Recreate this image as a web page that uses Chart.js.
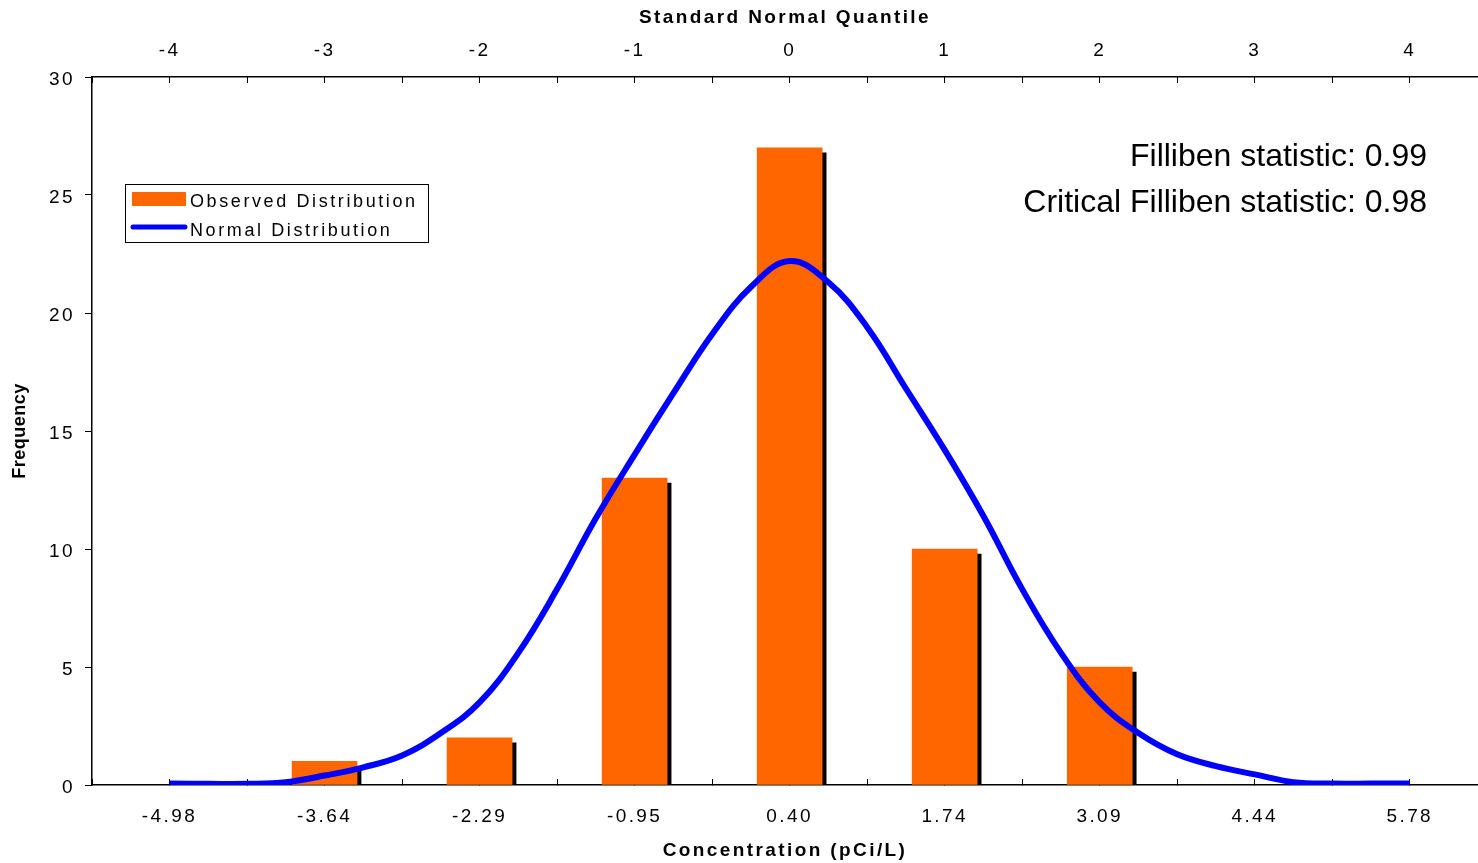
<!DOCTYPE html>
<html>
<head>
<meta charset="utf-8">
<script src="https://cdn.jsdelivr.net/npm/chart.js@4.4.1/dist/chart.umd.min.js"></script>
<style>
  html, body { margin: 0; padding: 0; background: #fff; }
  #wrap { width: 1478px; height: 863px; }
</style>
</head>
<body>
<div id="wrap"><canvas id="chart"></canvas></div>
<script>
// histogram bins, placed on the standard normal quantile axis
const binQuantiles = [-3, -2, -1, 0, 1, 2];
const observedFreq = [1, 2, 13, 27, 10, 5];

// fitted normal curve
const curveQuantiles = [-4, -3.75, -3.5, -3.25, -3, -2.75, -2.5, -2.25, -2, -1.75, -1.5, -1.25, -1, -0.75, -0.5, -0.25,
  0, 0.25, 0.5, 0.75, 1, 1.25, 1.5, 1.75, 2, 2.25, 2.5, 2.75, 3, 3.25, 3.5, 3.75, 4];
const curveFreq = [0.06, 0.05, 0.05, 0.12, 0.4, 0.75, 1.25, 2.2, 3.5, 5.6, 8.3, 11.3, 14.0, 16.6, 19.1, 21.1,
  22.2, 21.3, 19.4, 16.8, 14.2, 11.4, 8.3, 5.6, 3.5, 2.2, 1.3, 0.8, 0.45, 0.12, 0.06, 0.06, 0.06];

// tick labels
const quantileLabels = ['-4', '-3', '-2', '-1', '0', '1', '2', '3', '4'];
const concLabels = ['-4.98', '-3.64', '-2.29', '-0.95', '0.40', '1.74', '3.09', '4.44', '5.78'];

const statLines = ['Filliben statistic: 0.99', 'Critical Filliben statistic: 0.98'];

const FONT = '"Liberation Sans", Arial, sans-serif';

function labelFor(list) {
  return function (v) {
    if (Math.abs(v - Math.round(v)) > 1e-6) return '';
    const i = Math.round(v) + 4;
    return list[i] !== undefined ? list[i] : '';
  };
}

const paper = {
  id: 'paper',
  beforeLayout(chart) {
    chart.ctx.letterSpacing = '2.4px';
  },
  beforeDraw(chart) {
    const ctx = chart.ctx;
    ctx.save();
    ctx.fillStyle = '#fff';
    ctx.fillRect(0, 0, chart.width, chart.height);
    ctx.restore();
    ctx.letterSpacing = '2.4px';
  },
  beforeDatasetDraw(chart, args) {
    if (args.meta.type !== 'bar') return;
    const ctx = chart.ctx;
    ctx.save();
    ctx.shadowColor = '#000';
    ctx.shadowBlur = 0;
    ctx.shadowOffsetX = 4;
    ctx.shadowOffsetY = 5;
  },
  afterDatasetDraw(chart, args) {
    if (args.meta.type !== 'bar') return;
    chart.ctx.restore();
  },
  afterDraw(chart) {
    const ctx = chart.ctx;
    const ds = chart.data.datasets;
    ctx.save();

    // legend box
    ctx.strokeStyle = '#000';
    ctx.lineWidth = 1;
    ctx.strokeRect(125.5, 184.5, 303, 58);
    ctx.fillStyle = ds[0].backgroundColor;
    ctx.fillRect(132, 192, 54, 14);
    ctx.strokeStyle = ds[1].borderColor;
    ctx.lineWidth = 5;
    ctx.lineCap = 'round';
    ctx.beginPath();
    ctx.moveTo(133, 227);
    ctx.lineTo(185, 227);
    ctx.stroke();
    ctx.fillStyle = '#000';
    ctx.font = '18px ' + FONT;
    ctx.letterSpacing = '2.6px';
    ctx.textAlign = 'left';
    ctx.textBaseline = 'middle';
    ctx.fillText(ds[0].label, 190, 202);
    ctx.fillText(ds[1].label, 190, 231);

    // statistics
    ctx.letterSpacing = '0px';
    ctx.font = '32px ' + FONT;
    ctx.textAlign = 'right';
    ctx.textBaseline = 'alphabetic';
    ctx.fillText(statLines[0], 1427, 166);
    ctx.fillText(statLines[1], 1427, 212);

    // y title
    const ya = chart.scales.y;
    ctx.font = 'bold 18px ' + FONT;
    ctx.letterSpacing = '0.5px';
    ctx.translate(20, (ya.top + ya.bottom) / 2);
    ctx.rotate(-Math.PI / 2);
    ctx.textAlign = 'center';
    ctx.textBaseline = 'middle';
    ctx.fillText(ya.options.title.text, 0, 0);
    ctx.restore();
  }
};

const tickFont = { family: FONT, size: 19 };
const titleFont = { family: FONT, size: 19, weight: 'bold' };

new Chart(document.getElementById('chart'), {
  type: 'bar',
  data: {
    datasets: [
      {
        type: 'bar',
        label: 'Observed Distribution',
        data: binQuantiles.map((q, i) => ({ x: q, y: observedFreq[i] })),
        backgroundColor: '#FF6600',
        borderWidth: 0,
        barThickness: 65,
        order: 2
      },
      {
        type: 'line',
        label: 'Normal Distribution',
        data: curveQuantiles.map((q, i) => ({ x: q, y: curveFreq[i] })),
        borderColor: '#0000FF',
        backgroundColor: '#0000FF',
        borderWidth: 6,
        pointRadius: 0,
        fill: false,
        tension: 0.4,
        order: 1
      }
    ]
  },
  options: {
    responsive: true,
    maintainAspectRatio: false,
    animation: false,
    devicePixelRatio: 1,
    layout: { padding: 0 },
    plugins: {
      legend: { display: false },
      tooltip: { enabled: false }
    },
    scales: {
      x: {
        type: 'linear',
        position: 'bottom',
        min: -4.5,
        max: 4.44,
        offset: false,
        afterFit(s) { s.height = 78; },
        ticks: {
          stepSize: 0.5,
          includeBounds: false,
          autoSkip: false,
          maxRotation: 0,
          padding: 26,
          color: '#000',
          font: tickFont,
          callback: labelFor(concLabels)
        },
        grid: { drawOnChartArea: false, offset: false, tickLength: -6, tickColor: '#000', tickWidth: 1 },
        border: { color: '#000', width: 1.5 },
        title: { display: true, text: 'Concentration (pCi/L)', color: '#000', font: titleFont, padding: { top: 0, bottom: 1 } }
      },
      x2: {
        type: 'linear',
        position: 'top',
        min: -4.5,
        max: 4.44,
        offset: false,
        afterFit(s) { s.height = 77; },
        ticks: {
          stepSize: 0.5,
          includeBounds: false,
          autoSkip: false,
          maxRotation: 0,
          padding: 21,
          color: '#000',
          font: tickFont,
          callback: labelFor(quantileLabels)
        },
        grid: { drawOnChartArea: false, offset: false, tickLength: -6, tickColor: '#000', tickWidth: 1 },
        border: { color: '#000', width: 1.5 },
        title: { display: true, text: 'Standard Normal Quantile', color: '#000', font: titleFont, padding: { top: 6, bottom: 0 } }
      },
      y: {
        min: 0,
        max: 30,
        afterFit(s) { s.width = 92; },
        ticks: { stepSize: 5, padding: 10, labelOffset: 3, color: '#000', font: tickFont },
        grid: { drawOnChartArea: false, tickLength: 7, tickColor: '#000', tickWidth: 1 },
        border: { color: '#000', width: 1.5 },
        title: { display: false, text: 'Frequency' }
      }
    }
  },
  plugins: [paper]
});
</script>
</body>
</html>
